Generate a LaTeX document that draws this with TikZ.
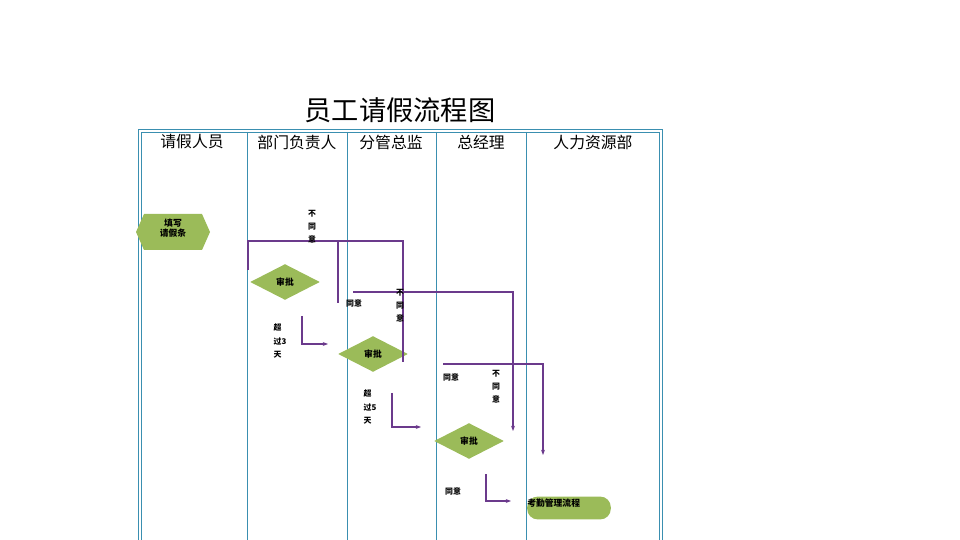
\documentclass[tikz,border=0pt]{standalone}
\usepackage{fontspec}
\setmainfont{Noto Sans CJK SC}
\usetikzlibrary{shapes.geometric,arrows.meta}
\definecolor{lane}{HTML}{3A8FB0}
\definecolor{leaf}{HTML}{9BBB59}
\definecolor{pur}{HTML}{6B3A8C}
\tikzset{
 dia/.style={diamond,fill=leaf,draw=none,minimum width=39.7pt,minimum height=20.4pt,inner sep=0pt,aspect=1.9,font=\fontsize{5}{5}\selectfont\bfseries},
 tiny/.style={font=\fontsize{4.5}{5.5}\selectfont\bfseries,inner sep=0pt,align=center},
 hd/.style={font=\fontsize{9}{10}\selectfont},
 fl/.style={draw=pur,line width=1.1pt},
 fa/.style={draw=pur,line width=0.8pt,-{Stealth[length=3pt]}},
 ln/.style={draw=lane,line width=0.5pt}
}
\begin{document}
\begin{tikzpicture}[x=0.02cm,y=-0.02cm]
\useasboundingbox (0,0) rectangle (960,540);
\node[font=\fontsize{15.5}{16}\selectfont] (title) at (400,110) {员工请假流程图};
% lanes
\draw[ln] (138,540)--(138,129)--(662,129)--(662,540);
\draw[ln] (141,540)--(141,132)--(659,132)--(659,540);
\foreach \x in {247,347,436,526} \draw[ln] (\x,132)--(\x,540);
\node[hd] (h1) at (192,142) {请假人员};
\node[hd] (h2) at (297,142) {部门负责人};
\node[hd] (h3) at (391,142) {分管总监};
\node[hd] (h4) at (481,142) {总经理};
\node[hd] (h5) at (593,142) {人力资源部};
% shapes
\fill[leaf] (136,232)--(144,214)--(202,214)--(210,232)--(202,250)--(144,250)--cycle;
\node[tiny,font=\fontsize{5}{6}\selectfont\bfseries] (start) at (173,228) {填写\\请假条};
\node[dia] (d1) at (285,282) {审批};
\node[dia] (d2) at (373,354) {审批};
\node[dia] (d3) at (469,441) {审批};
\node[fill=leaf,rounded corners=6pt,minimum width=47.6pt,minimum height=13pt,inner sep=0pt] (end) at (569,508) {};
\node[tiny,font=\fontsize{5}{6}\selectfont\bfseries,anchor=west] (endt) at (527,503) {考勤管理流程};
% connectors
\coordinate (a0) at (248,270); \coordinate (a1) at (248,241); \coordinate (a2) at (403,241); \coordinate (a3) at (403,362);
\draw[fl] (a0)--(a1)--(a2)--(a3);
\coordinate (b0) at (338,241); \coordinate (b1) at (338,303);
\draw[fl] (b0)--(b1);
\coordinate (c0) at (353,292); \coordinate (c1) at (513,292); \coordinate (c2) at (513,431);
\draw[fa] (c0)--(c1)--(c2);
\coordinate (e0) at (443,364); \coordinate (e1) at (543,364); \coordinate (e2) at (543,455);
\draw[fa] (e0)--(e1)--(e2);
\coordinate (f0) at (302,316); \coordinate (f1) at (302,344); \coordinate (f2) at (328,344);
\draw[fa] (f0)--(f1)--(f2);
\coordinate (g0) at (392,393); \coordinate (g1) at (392,427); \coordinate (g2) at (421,427);
\draw[fa] (g0)--(g1)--(g2);
\coordinate (k0) at (486,474); \coordinate (k1) at (486,501); \coordinate (k2) at (511,501);
\draw[fa] (k0)--(k1)--(k2);
% labels
\node[tiny,font=\fontsize{4.5}{7.5}\selectfont\bfseries] (l1) at (312,227) {不\\同\\意};
\node[tiny] (l2) at (354,303) {同意};
\node[tiny,font=\fontsize{4.5}{7.5}\selectfont\bfseries] (l3) at (400,306) {不\\同\\意};
\node[tiny,font=\fontsize{4.5}{7.5}\selectfont\bfseries,align=left] (l4) at (280,341) {超\\过3\\天};
\node[tiny,font=\fontsize{4.5}{7.5}\selectfont\bfseries,align=left] (l5) at (370,407) {超\\过5\\天};
\node[tiny] (l6) at (451,377) {同意};
\node[tiny,font=\fontsize{4.5}{7.5}\selectfont\bfseries] (l7) at (496,387) {不\\同\\意};
\node[tiny] (l8) at (453,491) {同意};
\end{tikzpicture}
\end{document}
